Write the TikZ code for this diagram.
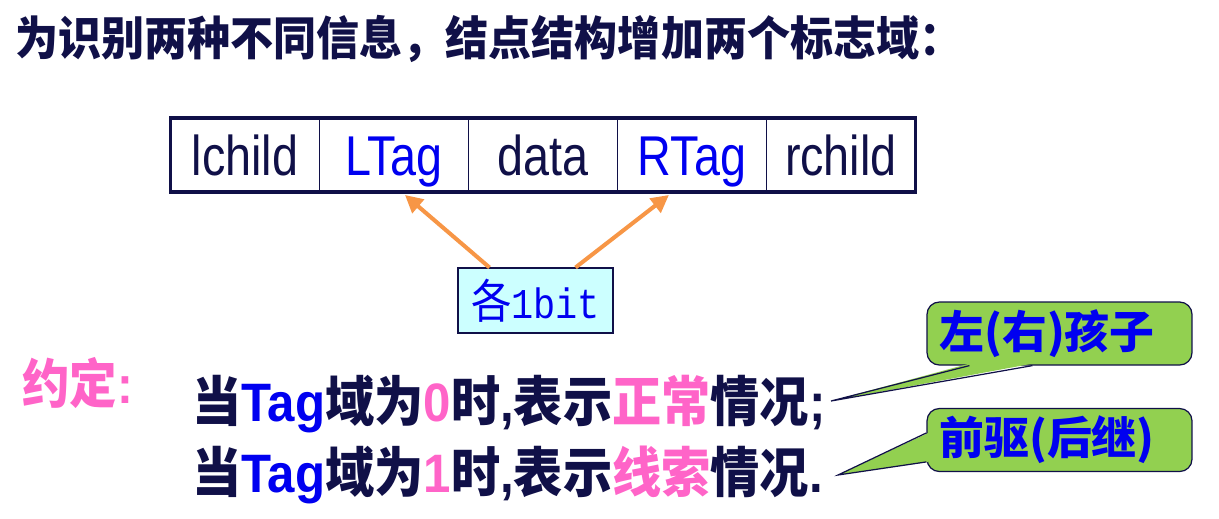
\documentclass[tikz,border=0pt]{standalone}
\usepackage{graphicx}
\usepackage{fontspec}
\setmainfont{Liberation Sans}
\setmonofont{Liberation Mono}
\newfontfamily\cjk{Noto Sans CJK SC}
\usetikzlibrary{positioning,calc,arrows.meta}

\definecolor{navy}{RGB}{16,16,72}
\definecolor{tagblue}{RGB}{0,0,240}
\definecolor{pinkword}{RGB}{255,100,200}
\definecolor{tagorange}{RGB}{247,150,70}
\definecolor{bitcyan}{RGB}{204,255,255}
\definecolor{notegreen}{RGB}{146,208,80}

\newcommand{\zh}[1]{{\cjk #1}}
\newcommand{\tall}[2]{\scalebox{1}[#1]{#2}}

\begin{document}
\begin{tikzpicture}[x=0.02cm,y=-0.02cm,
  cell/.style={draw=navy, line width=0.8pt, outer sep=0pt, minimum width=2.98cm, inner sep=0pt, text height=1.15cm, text depth=0.33cm, text=navy, font=\fontsize{26.6pt}{30pt}\selectfont},
  tagcell/.style={cell, text=tagblue},
  bitarrow/.style={draw=tagorange, line width=2.3pt, -{Triangle[length=10pt,width=10pt]}},
  notebox/.style={draw=navy, fill=notegreen, rounded corners=7pt, line width=0.7pt, text width=4.8cm, inner xsep=0.25cm, minimum height=1.26cm, align=left, text=tagblue, font=\fontsize{25.5pt}{28pt}\selectfont\bfseries},
  ruleline/.style={anchor=west, inner sep=0pt, text=navy, font=\fontsize{28pt}{32pt}\selectfont\bfseries}]

  \useasboundingbox (0,0) rectangle (1219,518);

  % heading
  \node[anchor=west, inner sep=0pt, text=navy, font=\fontsize{24.5pt}{28pt}\selectfont\bfseries] (title) at (15,39) {\tall{1.08}{\zh{为识别两种不同信息，结点结构增加两个标志域：}}};

  % node layout
  \node[cell] (lchild) at (245,155) {\tall{1.2}{lchild}};
  \node[tagcell, right=0pt of lchild] (ltag) {\tall{1.2}{LTag}};
  \node[cell, right=0pt of ltag] (data) {\tall{1.2}{data}};
  \node[tagcell, right=0pt of data] (rtag) {\tall{1.2}{RTag}};
  \node[cell, right=0pt of rtag] (rchild) {\tall{1.2}{rchild}};
  \draw[navy, line width=1.8pt] (lchild.north west) rectangle (rchild.south east);

  % one bit each
  \node[draw=navy, fill=bitcyan, line width=0.6pt, minimum width=3.1cm, minimum height=1.3cm, text=tagblue] (bits) at (535.5,300.5) {\tall{1.15}{\fontsize{23pt}{28pt}\selectfont\zh{各}\fontsize{21pt}{28pt}\selectfont\texttt{1bit}}};

  \draw[bitarrow] ($(bits.north west)+(32,0)$) -- ($(ltag.south)+(11,3)$);
  \draw[bitarrow] ($(bits.north east)+(-38,0)$) -- ($(rtag.south)+(-23,3)$);

  % rules
  \node[anchor=west, inner sep=0pt, text=pinkword, font=\fontsize{27pt}{30pt}\selectfont\bfseries] (rule) at (22,383) {\tall{1.12}{\zh{约定}:}};

  \node[ruleline] (tagzero) at (192,404) {\tall{1.1}{\zh{当}{\color{tagblue}Tag}\zh{域为}{\color{pinkword}0}\zh{时},\zh{表示}{\color{pinkword}\zh{正常}}\zh{情况};}};
  \node[ruleline] (tagone) at (192,475) {\tall{1.1}{\zh{当}{\color{tagblue}Tag}\zh{域为}{\color{pinkword}1}\zh{时},\zh{表示}{\color{pinkword}\zh{线索}}\zh{情况}.}};

  % callouts
  \node[notebox] (child) at (1059.5,333.5) {\zh{左(右)孩子}};
  \node[notebox] (thread) at (1059.5,440) {\zh{前驱(后继)}};

  \coordinate (childtip) at (831,401);
  \coordinate (threadtip) at (838,475);

  \fill[notegreen] ($(child.south west)+(43,-2)$) -- (childtip) -- ($(child.south west)+(106,-2)$) -- cycle;
  \draw[navy, line width=0.7pt] ($(child.south west)+(43,0)$) -- (childtip) -- ($(child.south west)+(106,0)$);

  \fill[notegreen] ($(thread.north west)+(2,25)$) -- (threadtip) -- ($(thread.north west)+(2,54)$) -- cycle;
  \draw[navy, line width=0.7pt] ($(thread.north west)+(0,25)$) -- (threadtip) -- ($(thread.north west)+(0,54)$);

\end{tikzpicture}
\end{document}
